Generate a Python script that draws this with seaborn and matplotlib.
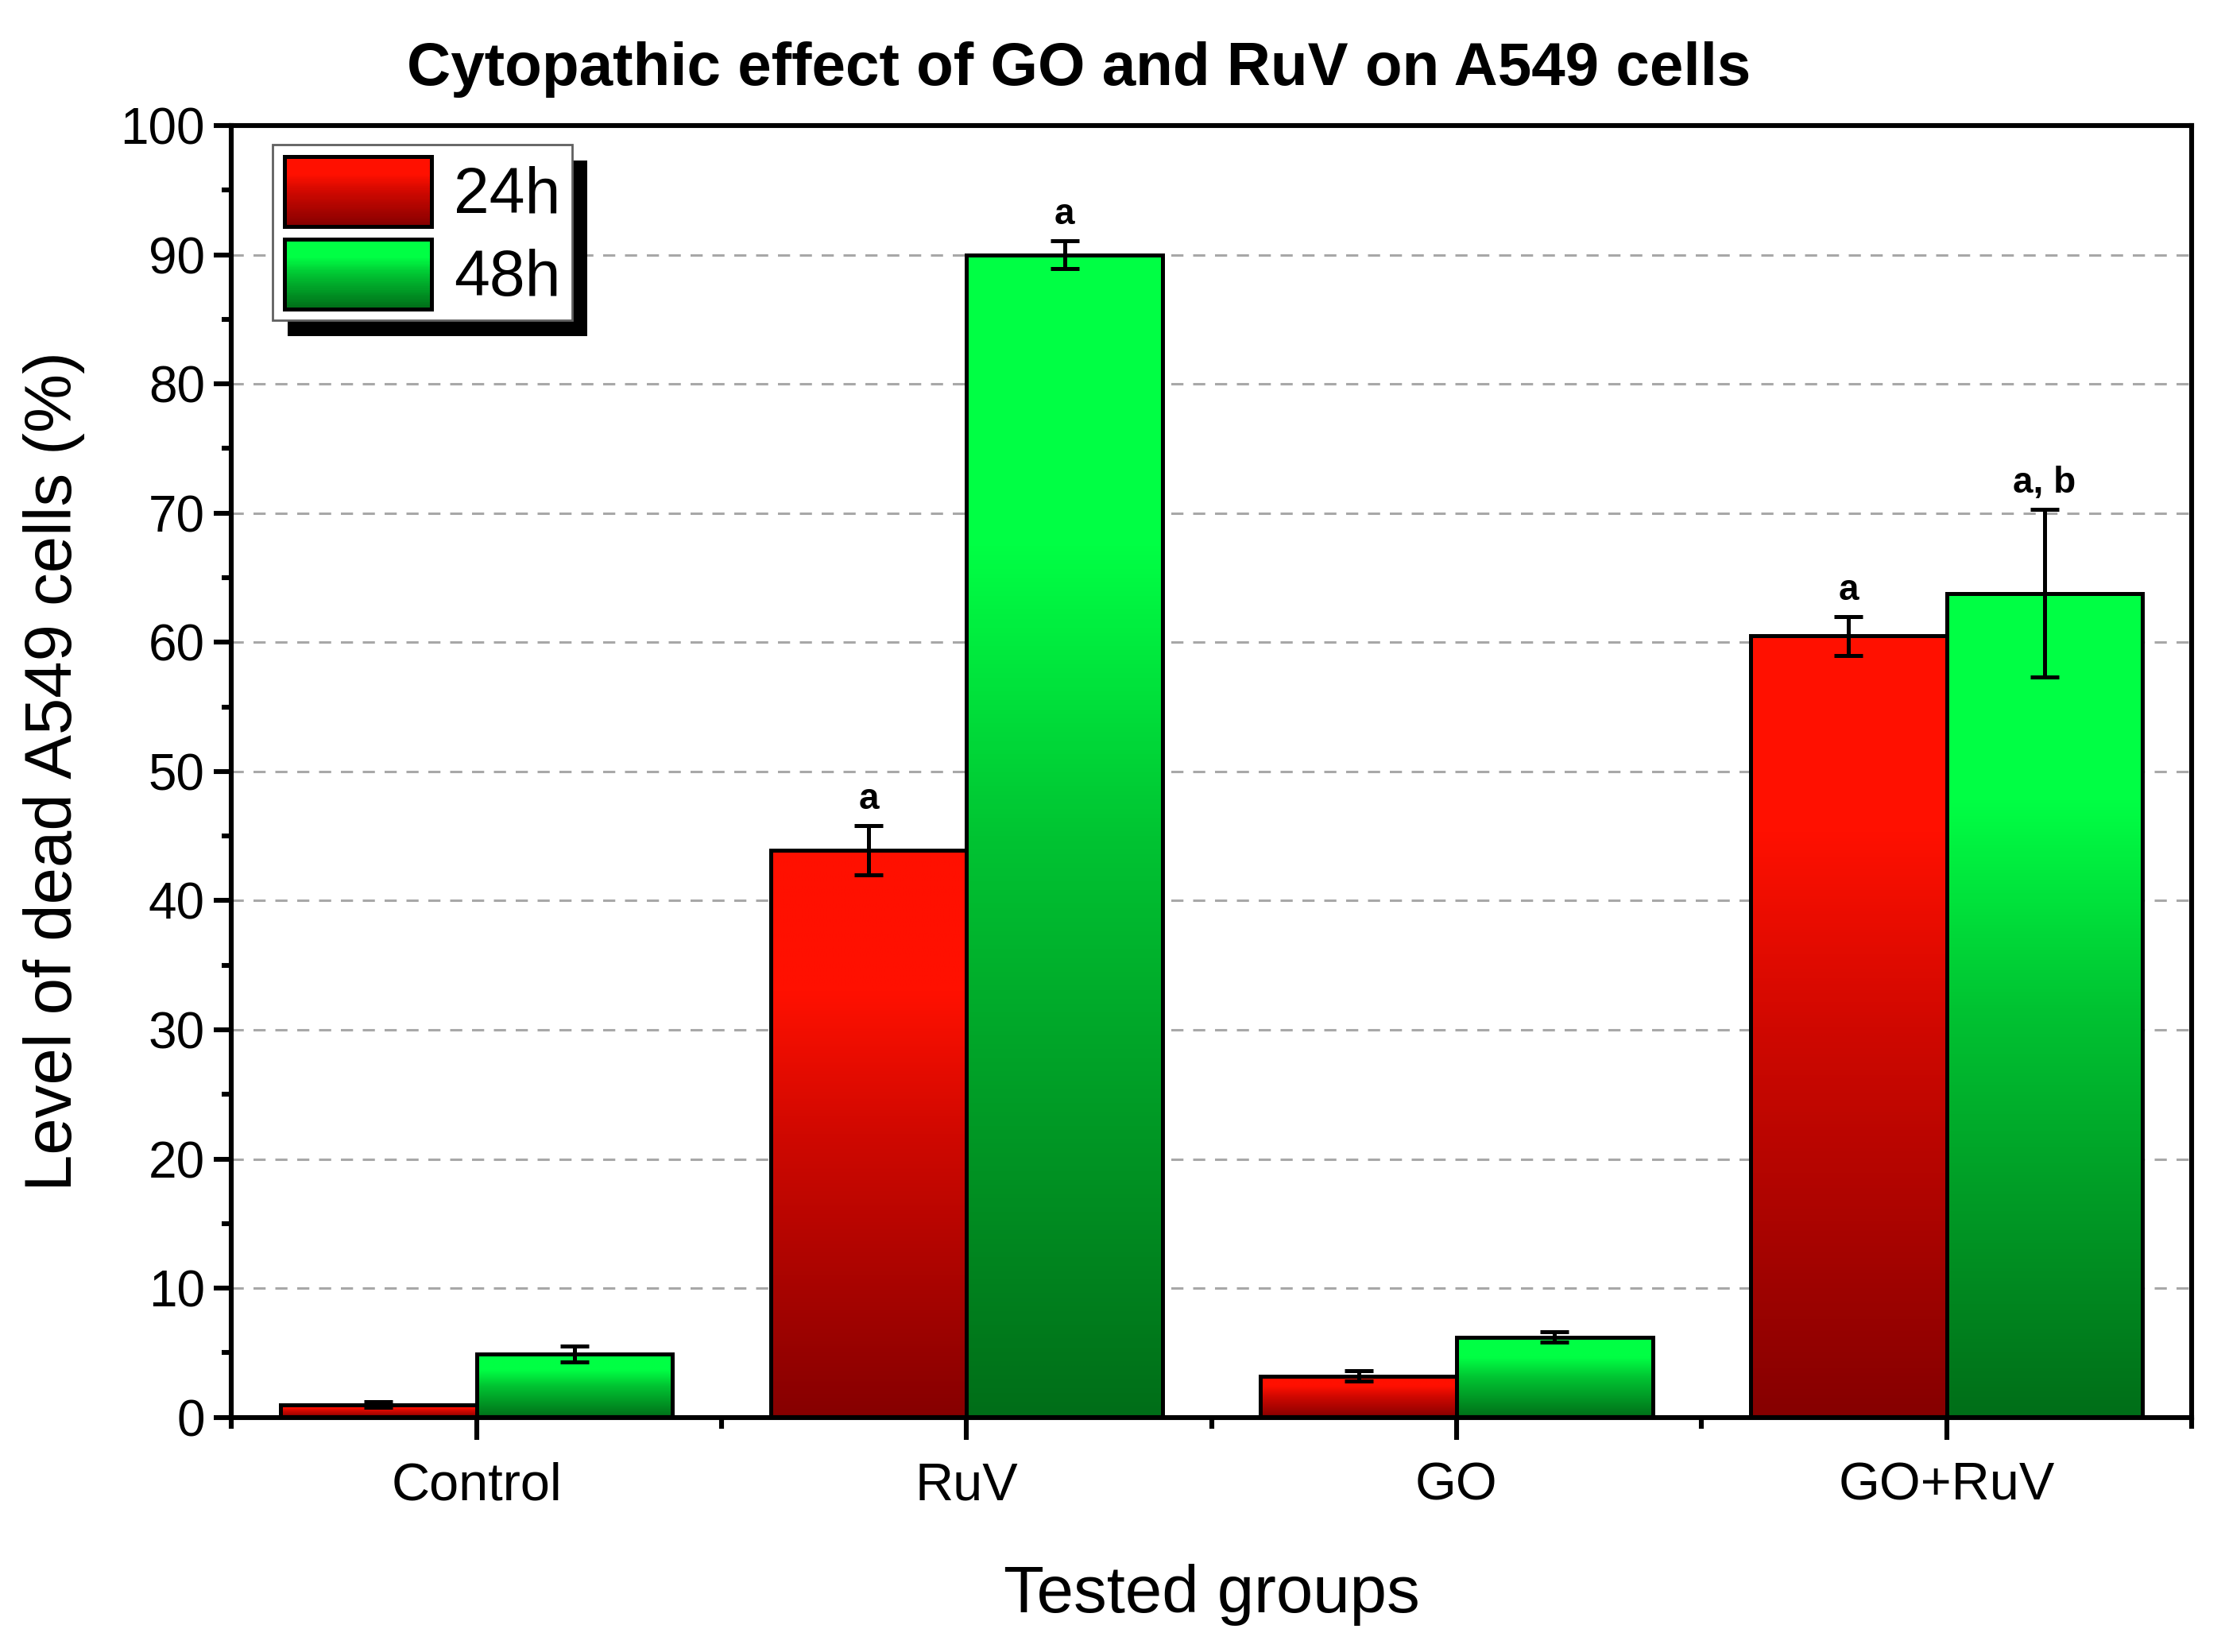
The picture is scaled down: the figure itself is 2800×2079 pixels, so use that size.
import numpy as np
import pandas as pd
import matplotlib
matplotlib.use('Agg')
import matplotlib.pyplot as plt
import matplotlib.patheffects as pe
from matplotlib.colors import LinearSegmentedColormap
from matplotlib.patches import Rectangle
from matplotlib.legend_handler import HandlerBase
from matplotlib.ticker import MultipleLocator, FixedLocator
import seaborn as sns

# dados
groups = ['Control', 'RuV', 'GO', 'GO+RuV']
times = ['24h', '48h']
dead_24h = [1.0, 43.9, 3.2, 60.5]
dead_48h = [4.9, 90.0, 6.2, 63.8]
err_24h = [0.2, 1.9, 0.4, 1.5]
err_48h = [0.6, 1.1, 0.4, 6.5]
marks_24h = ['', 'a', '', 'a']
marks_48h = ['', 'a', '', 'a, b']

top_colors = {'24h': '#ff1000', '48h': '#00ff44'}
mid_colors = {'24h': '#d00800', '48h': '#00c432'}
bottom_colors = {'24h': '#860000', '48h': '#006e18'}

df = pd.DataFrame({
    'group': groups * 2,
    'time': ['24h'] * 4 + ['48h'] * 4,
    'dead': dead_24h + dead_48h,
})
errs = {'24h': err_24h, '48h': err_48h}
marks = {'24h': marks_24h, '48h': marks_48h}

sns.set_style('ticks')
plt.rcParams['font.family'] = ['Liberation Sans', 'DejaVu Sans']
plt.rcParams.update({'text.color': 'black', 'axes.labelcolor': 'black',
                     'xtick.color': 'black', 'ytick.color': 'black'})


def grad_cmap(t):
    # degradê: escuro embaixo, claro no topo
    return LinearSegmentedColormap.from_list(
        t, [(0.0, bottom_colors[t]), (0.5, mid_colors[t]),
            (0.75, top_colors[t]), (1.0, top_colors[t])])


class GradientHandler(HandlerBase):
    def __init__(self, t):
        super().__init__()
        self.cmap = grad_cmap(t)

    def create_artists(self, legend, orig_handle, xdescent, ydescent,
                       width, height, fontsize, trans):
        n = 40
        arts = []
        for k in range(n):
            arts.append(Rectangle((-xdescent, -ydescent + height * k / n),
                                  width, height / n * 1.05,
                                  facecolor=self.cmap(k / (n - 1)),
                                  edgecolor='none', transform=trans))
        arts.append(Rectangle((-xdescent, -ydescent), width, height,
                              facecolor='none', edgecolor='black',
                              linewidth=1.8, transform=trans))
        return arts


fig = plt.figure(figsize=(14, 10.395), dpi=200)
ax = fig.add_axes([0.104, 0.142, 0.881, 0.782])

sns.barplot(data=df, x='group', y='dead', hue='time', order=groups,
            hue_order=times, palette=top_colors, errorbar=None, width=0.8,
            edgecolor='black', linewidth=1.8, legend=False, ax=ax, zorder=3)

grad = np.linspace(0, 1, 256).reshape(-1, 1)
for t, cont in zip(times, ax.containers):
    cmap = grad_cmap(t)
    for patch, e, m in zip(cont, errs[t], marks[t]):
        x0, w, h = patch.get_x(), patch.get_width(), patch.get_height()
        ax.imshow(grad, extent=[x0, x0 + w, 0, h], origin='lower',
                  aspect='auto', cmap=cmap, zorder=3, interpolation='bilinear')
        patch.set_facecolor('none')
        patch.set_zorder(4)
        xc = x0 + w / 2
        ax.errorbar(xc, h, yerr=e, fmt='none', ecolor='black',
                    elinewidth=1.8, capsize=6.5, capthick=1.8, zorder=5)
        if m:
            ax.text(xc, h + e + 1.3, m, ha='center', va='baseline',
                    fontsize=16.5, fontweight='bold', zorder=6)

ax.set_xlim(-0.5, 3.5)
ax.set_ylim(0, 100)
ax.yaxis.set_major_locator(MultipleLocator(10))
ax.yaxis.set_minor_locator(MultipleLocator(5))
ax.xaxis.set_minor_locator(FixedLocator([-0.5, 0.5, 1.5, 2.5, 3.5]))

ax.set_axisbelow(True)
ax.yaxis.grid(True, linestyle=(0, (5, 4)), color='#a8a8a8', linewidth=1.1)

for s in ax.spines.values():
    s.set_visible(True)
    s.set_linewidth(2.2)
    s.set_color('black')
    s.set_zorder(7)

ax.tick_params(axis='y', which='major', direction='out', length=8, width=2.2,
               labelsize=23, pad=4, right=False)
ax.tick_params(axis='y', which='minor', direction='out', length=4.5, width=2.2,
               right=False)
ax.tick_params(axis='x', which='major', direction='out', length=10, width=2.2,
               labelsize=24, pad=10, top=False)
ax.tick_params(axis='x', which='minor', direction='out', length=5, width=2.2,
               top=False)

ax.set_xlabel('Tested groups', fontsize=30, labelpad=24)
ax.set_ylabel('Level of dead A549 cells (%)', fontsize=30, labelpad=16)
fig.suptitle('Cytopathic effect of GO and RuV on A549 cells', x=0.485, y=0.975,
             fontsize=27.5, fontweight='bold')

h24 = Rectangle((0, 0), 1, 1)
h48 = Rectangle((0, 0), 1, 1)
leg = ax.legend([h24, h48], times,
                handler_map={h24: GradientHandler('24h'),
                             h48: GradientHandler('48h')},
                loc='upper left', bbox_to_anchor=(0.021, 0.985), borderaxespad=0,
                fontsize=29, handlelength=2.3, handleheight=1.3,
                handletextpad=0.35, labelspacing=0.2, borderpad=0.18,
                fancybox=False, framealpha=1, edgecolor='#606060')
leg.get_frame().set_linewidth(1.0)
leg.get_frame().set_path_effects([
    pe.SimplePatchShadow(offset=(7, -7), shadow_rgbFace='black', alpha=1),
    pe.Normal()])
leg.set_zorder(10)

fig.savefig('out.png', dpi=200)
